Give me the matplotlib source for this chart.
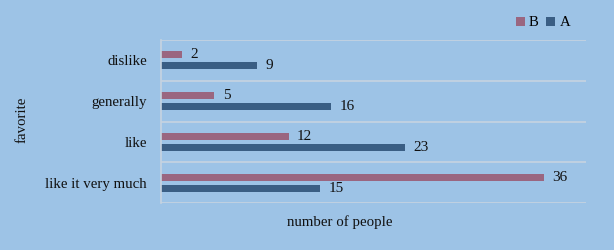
import matplotlib
matplotlib.use("Agg")
import matplotlib.pyplot as plt
import numpy as np

categories = ["like it very much", "like", "generally", "dislike"]
series_a = [15, 23, 16, 9]
series_b = [36, 12, 5, 2]
series_names = ["B", "A"]

plt.rcParams['font.family'] = ['Liberation Serif', 'DejaVu Serif']

bg = "#9DC3E6"
col_b = "#9A6680"
col_a = "#3A5E84"
grid_col = "#C6D3E0"

fig = plt.figure(figsize=(6.14, 2.5), dpi=100)
fig.patch.set_facecolor(bg)
ax = fig.add_axes([161/614, 1-203/250, (586-161)/614, (203-40)/250])
ax.set_facecolor(bg)

y = np.arange(len(categories))
h = 0.17
off = 0.135
bb = ax.barh(y + off, series_b, height=h, color=col_b, label="B")
ba = ax.barh(y - off, series_a, height=h, color=col_a, label="A")
for rect, v in zip(bb, series_b):
    ax.text(v + 0.8, rect.get_y() + rect.get_height()/2, str(v), va='center', ha='left', fontsize=11, color='#111111')
for rect, v in zip(ba, series_a):
    ax.text(v + 0.8, rect.get_y() + rect.get_height()/2, str(v), va='center', ha='left', fontsize=11, color='#111111')

ax.set_xlim(0, 40)
ax.set_ylim(-0.5, len(categories) - 0.5)
ax.set_yticks(y)
ax.set_yticklabels(categories, fontsize=10.7, color='#111111')
ax.set_xticks([])
ax.set_yticks(np.arange(-0.5, len(categories), 1), minor=True)
ax.yaxis.grid(True, which='minor', color=grid_col, linewidth=1.2)
ax.tick_params(axis='y', which='both', length=0, pad=10)
for s in ['top', 'right', 'bottom']:
    ax.spines[s].set_visible(False)
ax.spines['left'].set_color(grid_col)
ax.spines['left'].set_linewidth(1.2)
ax.set_axisbelow(True)

fig.text(22/614, 1-120/250, "favorite", rotation=90, ha='center', va='center', fontsize=10.7, color='#111111')
fig.text(340/614, 1-222/250, "number of people", ha='center', va='center', fontsize=10.7, color='#111111')

leg = fig.legend(handles=[bb, ba], labels=series_names, loc='center', bbox_to_anchor=(543/614, 1-23/250),
                 ncol=2, frameon=False, fontsize=10.7, handlelength=0.6, handleheight=0.6,
                 handletextpad=0.3, columnspacing=0.5)

fig.savefig("out.png", dpi=100, facecolor=bg)
